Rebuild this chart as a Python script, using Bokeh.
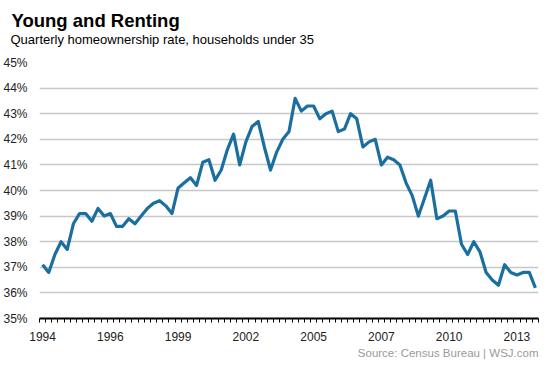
from bokeh.plotting import figure
from bokeh.models import Range1d, FixedTicker, PrintfTickFormatter, Title, ColumnDataSource
from bokeh.embed import file_html
from bokeh.resources import INLINE

# ---- data ----
quarters = [f"{y} Q{q}" for y in range(1994, 2015) for q in range(1, 5)][:81]
rate = [37.1, 36.8, 37.5, 38.0, 37.7, 38.7, 39.1, 39.1, 38.8, 39.3,
        39.0, 39.1, 38.6, 38.6, 38.9, 38.7, 39.0, 39.3, 39.5, 39.6,
        39.4, 39.1, 40.1, 40.3, 40.5, 40.2, 41.1, 41.2, 40.4, 40.8,
        41.6, 42.2, 41.0, 41.9, 42.5, 42.7, 41.7, 40.8, 41.5, 42.0,
        42.3, 43.6, 43.1, 43.3, 43.3, 42.8, 43.0, 43.1, 42.3, 42.4,
        43.0, 42.8, 41.7, 41.9, 42.0, 41.0, 41.3, 41.2, 41.0, 40.3,
        39.8, 39.0, 39.7, 40.4, 38.9, 39.0, 39.2, 39.2, 37.9, 37.5,
        38.0, 37.6, 36.8, 36.5, 36.3, 37.1, 36.8, 36.7, 36.8, 36.8,
        36.2]
label_every = 11
y_ticks = list(range(35, 46))

title_text = "Young and Renting"
subtitle_text = "Quarterly homeownership rate, households under 35"
source_text = "Source: Census Bureau | WSJ.com"

FONT = "Liberation Sans"

idx = list(range(len(rate)))
src = ColumnDataSource(dict(i=idx, rate=rate, q=quarters))

tick_idx = idx[::label_every]
tick_labels = {i: quarters[i][:4] for i in tick_idx}

W, H = 545, 363
x0, x1 = -0.5, len(rate) - 0.5
y0, y1 = 35, 45

p = figure(width=W, height=H, output_backend="svg", toolbar_location=None, title=None,
           x_range=Range1d(x0, x1), y_range=Range1d(y0, y1),
           min_border_left=38, min_border_right=7, min_border_top=62, min_border_bottom=45)
p.outline_line_color = None
p.background_fill_color = "white"
p.border_fill_color = "white"

# grid
p.xgrid.visible = False
p.ygrid.ticker = FixedTicker(ticks=y_ticks)
p.ygrid.grid_line_color = "#c8c8c8"
p.ygrid.grid_line_width = 1.3

# y axis
p.yaxis.ticker = FixedTicker(ticks=y_ticks)
p.yaxis.formatter = PrintfTickFormatter(format="%d%%")
p.yaxis.axis_line_color = None
p.yaxis.major_tick_out = 0
p.yaxis.major_tick_in = 0
p.yaxis.minor_tick_out = 0
p.yaxis.minor_tick_in = 0
p.yaxis.major_label_standoff = 12
p.yaxis.major_label_text_font = FONT
p.yaxis.major_label_text_font_size = "12px"
p.yaxis.major_label_text_color = "#222222"

# x axis
p.xaxis.ticker = FixedTicker(ticks=tick_idx, minor_ticks=[k - 0.5 for k in range(len(rate) + 1)])
p.xaxis.major_label_overrides = tick_labels
p.xaxis.axis_line_color = "black"
p.xaxis.axis_line_width = 2
p.xaxis.major_tick_out = 0
p.xaxis.major_tick_in = 0
p.xaxis.minor_tick_out = 4
p.xaxis.minor_tick_in = 0
p.xaxis.minor_tick_line_color = "black"
p.xaxis.minor_tick_line_width = 1
p.xaxis.major_label_standoff = 9
p.xaxis.major_label_text_font = FONT
p.xaxis.major_label_text_font_size = "12px"
p.xaxis.major_label_text_color = "#222222"

p.line(x="i", y="rate", source=src, line_color="#1a6fa0", line_width=3.2, line_join="round")

# titles (innermost first)
p.add_layout(Title(text=subtitle_text, align="left", offset=-29, standoff=32,
                   text_font=FONT, text_font_size="13px", text_font_style="normal",
                   text_color="black"), "above")
p.add_layout(Title(text=title_text, align="left", offset=-28, standoff=-34,
                   text_font=FONT, text_font_size="18.5px", text_font_style="bold",
                   text_color="black"), "above")
p.add_layout(Title(text=source_text, align="right", offset=0, standoff=2,
                   text_font=FONT, text_font_size="11.5px", text_font_style="normal",
                   text_color="#999999"), "below")

open("out.html", "w").write(file_html(p, INLINE))
